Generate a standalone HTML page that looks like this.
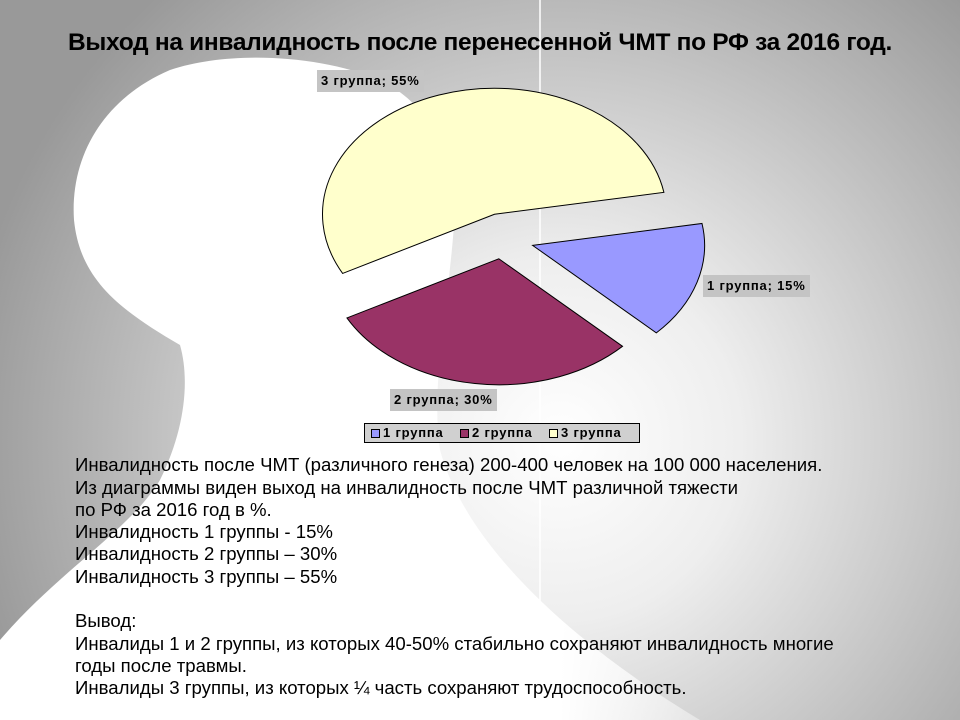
<!DOCTYPE html>
<html><head><meta charset="utf-8">
<style>
body{margin:0;width:960px;height:720px;overflow:hidden;font-family:"Liberation Sans","DejaVu Sans",sans-serif;}
#wrap{position:relative;width:960px;height:720px;background:radial-gradient(ellipse 600px 600px at 560px 440px,#ffffff 0%,#eeeeee 30%,#bdbdbd 70%,#999999 100%);}
.t{position:absolute;left:75px;font-size:18.6px;color:#000;white-space:nowrap;letter-spacing:0px;}
.lg{position:absolute;font-weight:bold;font-size:13px;letter-spacing:0.8px;}
</style></head><body>
<div id="wrap">
<svg width="960" height="720" style="position:absolute;left:0;top:0">
<defs><linearGradient id="sg" x1="0" y1="0" x2="1" y2="0"><stop offset="0" stop-color="#ffffff"/><stop offset="0.8" stop-color="#ffffff"/><stop offset="1" stop-color="#ffffff" stop-opacity="0.4"/></linearGradient></defs>
<path fill="url(#sg)" d="M0,640 C60,570 130,530 160,480 C185,430 190,380 180,345 C120,310 80,280 74,220 C70,160 100,100 170,70 C230,50 320,55 380,80 C430,105 450,150 455,210 C450,300 430,380 440,450 C470,560 600,660 700,720 L0,720 Z"/>
<line x1="540" y1="0" x2="540" y2="720" stroke="#ffffff" stroke-width="1.5"/>
<g id="pie"></g>
</svg>
<div style="position:absolute;left:0;width:960px;top:29px;text-align:center;font-weight:bold;font-size:24.5px;letter-spacing:-0.3px;">Выход на инвалидность после перенесенной ЧМТ по РФ за 2016 год.</div>
<div id="labels"></div>
<div style="position:absolute;left:364px;top:423px;width:274px;height:18px;border:1px solid #000;background:#d0d0d0;line-height:18px;">
<span style="position:absolute;left:6px;top:5px;width:7px;height:7px;background:#9999ff;border:1px solid #000"></span><span class="lg" style="left:18px">1 группа</span>
<span style="position:absolute;left:95px;top:5px;width:7px;height:7px;background:#993366;border:1px solid #000"></span><span class="lg" style="left:107px">2 группа</span>
<span style="position:absolute;left:184px;top:5px;width:7px;height:7px;background:#ffffcc;border:1px solid #000"></span><span class="lg" style="left:196px">3 группа</span>
</div>
<div class="t" style="top:454px">Инвалидность после ЧМТ (различного генеза) 200-400 человек на 100 000 населения.</div>
<div class="t" style="top:477px">Из диаграммы виден выход на инвалидность после ЧМТ различной тяжести</div>
<div class="t" style="top:499px">по РФ за 2016 год в %.</div>
<div class="t" style="top:521px">Инвалидность 1 группы - 15%</div>
<div class="t" style="top:543px">Инвалидность 2 группы – 30%</div>
<div class="t" style="top:566px">Инвалидность 3 группы – 55%</div>
<div class="t" style="top:610px">Вывод:</div>
<div class="t" style="top:633px">Инвалиды 1 и 2 группы, из которых 40-50% стабильно сохраняют инвалидность многие</div>
<div class="t" style="top:655px">годы после травмы.</div>
<div class="t" style="top:677px">Инвалиды 3 группы, из которых ¼ часть сохраняют трудоспособность.</div>
</div>
<script>
const categories=["1 группа","2 группа","3 группа"];
const values=[15,30,55];
const colors=["#9999ff","#993366","#ffffcc"];
const cx=502,cy=236,rx=172,ry=126,startDeg=-10;
const explode=[32,23,23];
const labelPos=[[703,275],[390,389],[317,70]];
const g=document.getElementById('pie');
const ns="http://www.w3.org/2000/svg";
const total=values.reduce((a,b)=>a+b,0);
let a=startDeg*Math.PI/180;
values.forEach((v,i)=>{
  const span=v/total*2*Math.PI;
  const mid=a+span/2;
  const ox=cx+explode[i]*Math.cos(mid), oy=cy+explode[i]*Math.sin(mid);
  const x1=ox+rx*Math.cos(a), y1=oy+ry*Math.sin(a);
  const x2=ox+rx*Math.cos(a+span), y2=oy+ry*Math.sin(a+span);
  const p=document.createElementNS(ns,'path');
  p.setAttribute('d',`M${ox},${oy} L${x1},${y1} A${rx},${ry} 0 ${span>Math.PI?1:0} 1 ${x2},${y2} Z`);
  p.setAttribute('fill',colors[i]);p.setAttribute('stroke','#000');p.setAttribute('stroke-width','1');
  
  
  g.appendChild(p);
  const d=document.createElement('div');
  d.textContent=categories[i]+'; '+values[i]+'%';
  d.style.cssText=`position:absolute;left:${labelPos[i][0]}px;top:${labelPos[i][1]}px;height:22px;line-height:22px;padding:0 4px;background:#c4c4c4;font-weight:bold;font-size:13px;letter-spacing:0.8px;white-space:nowrap;`;
  
  
  document.getElementById('labels').appendChild(d);
  a+=span;
});
</script>
</body></html>
